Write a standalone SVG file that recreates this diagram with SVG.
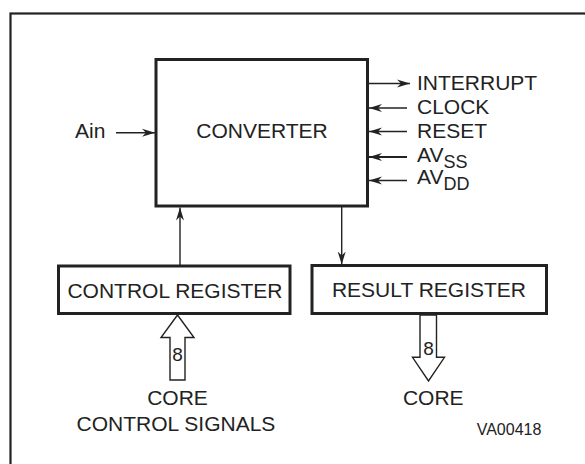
<svg xmlns="http://www.w3.org/2000/svg" width="585" height="464" viewBox="0 0 585 464">
<style>
text{font-family:"Liberation Sans",Arial,sans-serif;fill:#222;font-size:21px}
.box{fill:#fff;stroke:#222;stroke-width:3}
.ln{fill:none;stroke:#222;stroke-width:1.4}
.bus{fill:#fff;stroke:#222;stroke-width:1.4}
.sub{font-size:18px}
</style>
<defs>
<marker id="ah" viewBox="0 0 14 10" refX="13" refY="5" markerWidth="14" markerHeight="10" markerUnits="userSpaceOnUse" orient="auto">
<path d="M0,1 L13,5 L0,9 L4,5 z" fill="#222"/>
</marker>
</defs>
<rect x="10.5" y="13.5" width="620" height="520" fill="none" stroke="#222" stroke-width="2.2"/>
<g id="converter">
<rect class="box" x="156" y="59.5" width="211.5" height="146.5"/>
<text x="262" y="138.3" text-anchor="middle">CONVERTER</text>
</g>
<g id="control-register">
<rect class="box" x="58.5" y="266" width="231.5" height="47.5"/>
<text x="175" y="297.7" text-anchor="middle">CONTROL REGISTER</text>
</g>
<g id="result-register">
<rect class="box" x="312" y="265.5" width="234.5" height="48"/>
<text x="429" y="296.7" text-anchor="middle">RESULT REGISTER</text>
</g>
<g id="labels">
<text x="75" y="137.5">Ain</text>
<text x="417" y="90.3">INTERRUPT</text>
<text x="417" y="114.3">CLOCK</text>
<text x="417" y="138">RESET</text>
<text x="417" y="161.5">AV<tspan class="sub" dy="6">SS</tspan></text>
<text x="417" y="184">AV<tspan class="sub" dy="6">DD</tspan></text>
<text x="177.5" y="405" text-anchor="middle">CORE</text>
<text x="176" y="431" text-anchor="middle">CONTROL SIGNALS</text>
<text x="433.3" y="405" text-anchor="middle">CORE</text>
<text x="509" y="435" text-anchor="middle" style="font-size:16px">VA00418</text>
</g>
<g id="connectors">
<line class="ln" x1="116" y1="132.7" x2="155" y2="132.7" marker-end="url(#ah)"/>
<line class="ln" x1="368" y1="83.5" x2="410" y2="83.5" marker-end="url(#ah)"/>
<line class="ln" x1="407" y1="108" x2="369" y2="108" marker-end="url(#ah)"/>
<line class="ln" x1="407" y1="131.5" x2="369" y2="131.5" marker-end="url(#ah)"/>
<line class="ln" x1="407" y1="157" x2="369" y2="157" marker-end="url(#ah)" style="stroke-width:2"/>
<line class="ln" x1="407" y1="180.5" x2="369" y2="180.5" marker-end="url(#ah)"/>
<line class="ln" x1="180" y1="265" x2="180" y2="207.5" marker-end="url(#ah)"/>
<line class="ln" x1="341.7" y1="207" x2="341.7" y2="264.5" marker-end="url(#ah)"/>
<polygon class="bus" points="177.5,315 161,337.5 170,337.5 170,380 185,380 185,337.5 194,337.5"/>
<polygon class="bus" points="420,315 420,357.3 412.5,357.3 428.5,381 444.5,357.3 436.5,357.3 436.5,315"/>
<text x="177.5" y="361" text-anchor="middle" style="font-size:19px">8</text>
<text x="428.5" y="355" text-anchor="middle" style="font-size:19px">8</text>
</g>
</svg>
